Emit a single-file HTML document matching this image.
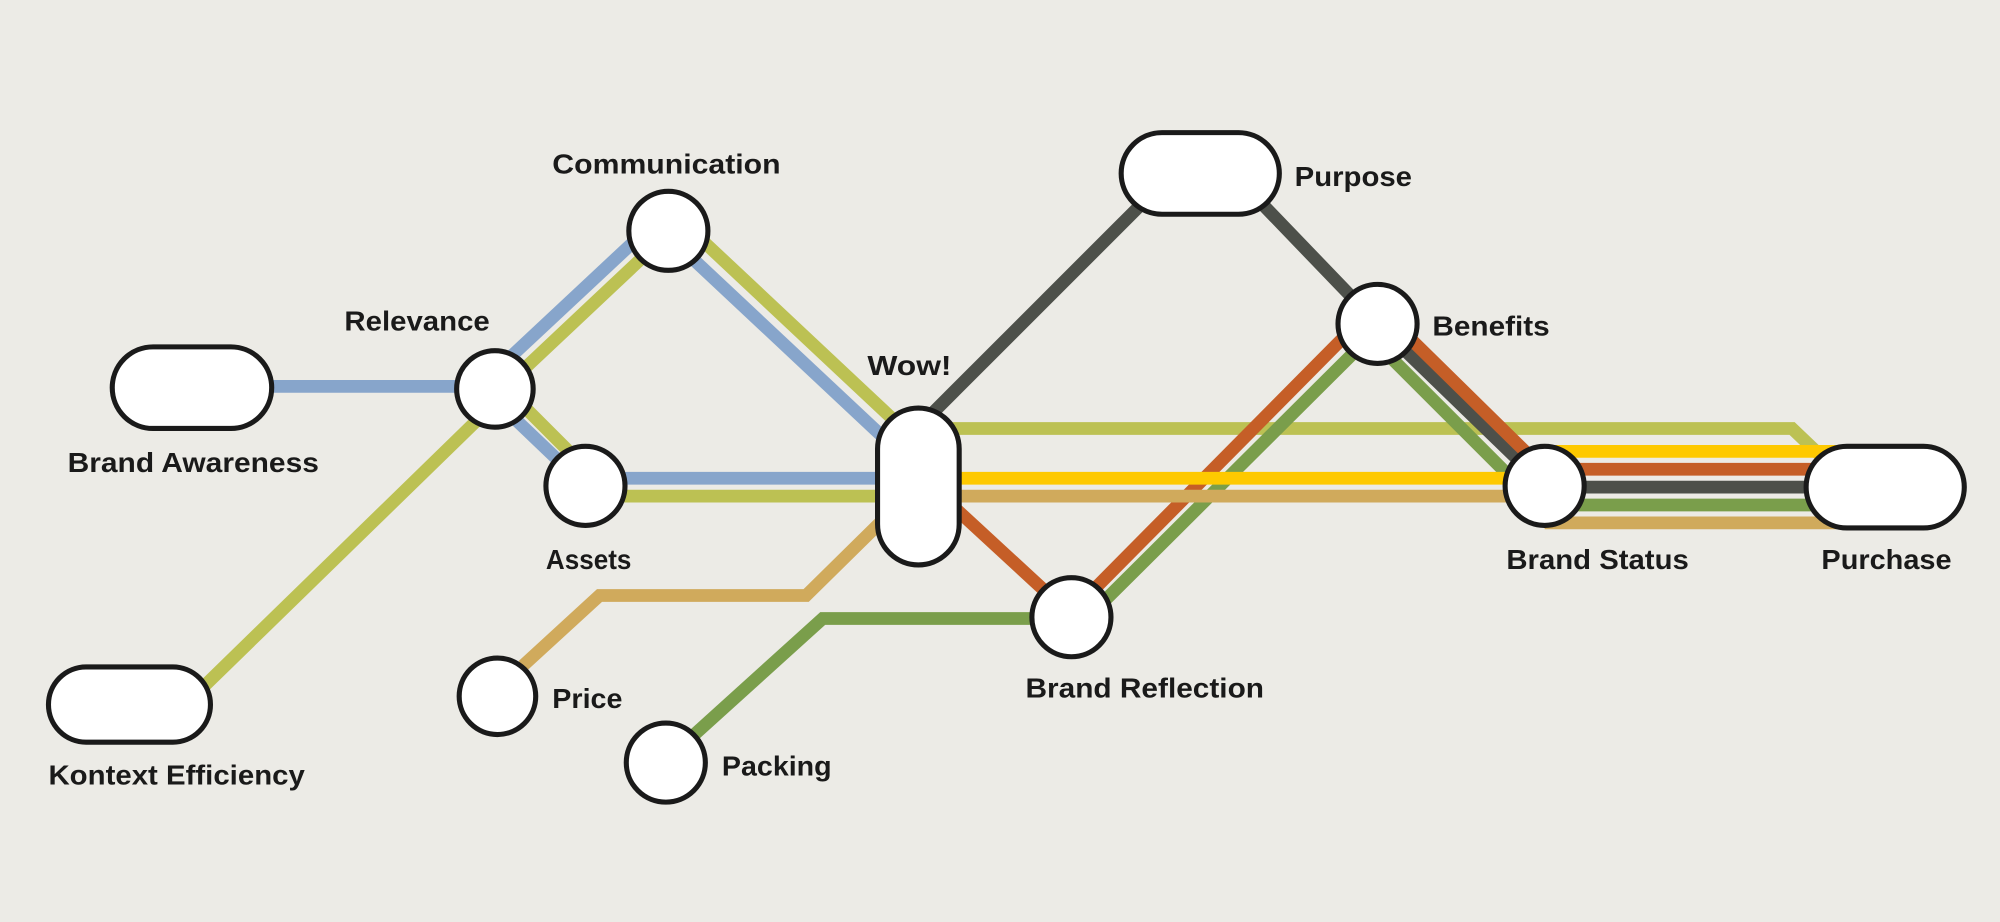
<!DOCTYPE html>
<html><head><meta charset="utf-8"><style>
html,body{margin:0;padding:0;background:#ecebe6;}
svg{display:block}
text{font-family:"Liberation Sans",sans-serif;font-weight:bold;font-size:22px;fill:#1a1a1a}
</style></head><body>
<svg width="2000" height="922" viewBox="0 0 1568 723" preserveAspectRatio="none" xmlns="http://www.w3.org/2000/svg">
<rect width="1568" height="723" fill="#ecebe6"/>
<g fill="none" stroke-width="10" stroke-linejoin="miter">
<!-- blue -->
<polyline stroke="#87a5cb" points="200,303 390,303"/>
<polyline stroke="#87a5cb" points="398,282 505,182"/>
<polyline stroke="#87a5cb" points="540,200 700,350"/>
<polyline stroke="#87a5cb" points="400,325 445,368"/>
<polyline stroke="#87a5cb" points="470,375 700,375"/>
<!-- yellow-green -->
<polyline stroke="#bcc153" points="158,540 390,314"/>
<polyline stroke="#bcc153" points="408,292 510,196"/>
<polyline stroke="#bcc153" points="550,188 712,340"/>
<polyline stroke="#bcc153" points="410,318 452,360"/>
<polyline stroke="#bcc153" points="470,389 700,389"/>
<polyline stroke="#bcc153" points="740,336 1405,336 1428,358"/>
<!-- dark gray -->
<polyline stroke="#4d504a" points="725,330 905,150"/>
<polyline stroke="#4d504a" points="980,150 1080,254 1205,375"/>
<polyline stroke="#4d504a" points="1211,382 1440,382"/>
<!-- orange -->
<polyline stroke="#c55e27" points="745,395 835,478"/>
<polyline stroke="#c55e27" points="850,470 1058,260"/>
<polyline stroke="#c55e27" points="1100,260 1210,368 1440,368"/>
<!-- green -->
<polyline stroke="#7a9e4b" points="540,580 645,485 830,485"/>
<polyline stroke="#7a9e4b" points="862,475 1068,270"/>
<polyline stroke="#7a9e4b" points="1085,275 1195,385 1211,396 1440,396"/>
<!-- yellow -->
<polyline stroke="#fec900" points="740,375 1211,375"/>
<polyline stroke="#fec900" points="1211,354 1440,354"/>
<!-- tan -->
<polyline stroke="#d0aa5c" points="410,522 470,467 632,467 700,400"/>
<polyline stroke="#d0aa5c" points="740,389 1211,389"/>
<polyline stroke="#d0aa5c" points="1211,410 1440,410"/>
</g>
<g fill="#fff" stroke="#1a1a1a" stroke-width="4">
<rect x="88" y="272" width="125" height="64" rx="32"/>
<rect x="38" y="523" width="127" height="59" rx="29.5"/>
<circle cx="388" cy="305" r="30"/>
<circle cx="524" cy="181" r="31"/>
<circle cx="459" cy="381" r="31"/>
<circle cx="390" cy="546" r="30"/>
<circle cx="522" cy="598" r="31"/>
<rect x="688" y="320" width="64" height="123" rx="32"/>
<circle cx="840" cy="484" r="31"/>
<rect x="879" y="104" width="124" height="64" rx="32"/>
<circle cx="1080" cy="254" r="31"/>
<circle cx="1211" cy="381" r="31"/>
<rect x="1416" y="350" width="124" height="64" rx="32"/>
</g>
<text x="53" y="370" textLength="197" lengthAdjust="spacingAndGlyphs">Brand Awareness</text>
<text x="38" y="615" textLength="201" lengthAdjust="spacingAndGlyphs">Kontext Efficiency</text>
<text x="270" y="259" textLength="114" lengthAdjust="spacingAndGlyphs">Relevance</text>
<text x="433" y="136" textLength="179" lengthAdjust="spacingAndGlyphs">Communication</text>
<text x="428" y="446" textLength="67" lengthAdjust="spacingAndGlyphs">Assets</text>
<text x="433" y="555" textLength="55" lengthAdjust="spacingAndGlyphs">Price</text>
<text x="566" y="608" textLength="86" lengthAdjust="spacingAndGlyphs">Packing</text>
<text x="680" y="294" textLength="66" lengthAdjust="spacingAndGlyphs">Wow!</text>
<text x="804" y="547" textLength="187" lengthAdjust="spacingAndGlyphs">Brand Reflection</text>
<text x="1015" y="146" textLength="92" lengthAdjust="spacingAndGlyphs">Purpose</text>
<text x="1123" y="263" textLength="92" lengthAdjust="spacingAndGlyphs">Benefits</text>
<text x="1181" y="446" textLength="143" lengthAdjust="spacingAndGlyphs">Brand Status</text>
<text x="1428" y="446" textLength="102" lengthAdjust="spacingAndGlyphs">Purchase</text>
</svg>
</body></html>
